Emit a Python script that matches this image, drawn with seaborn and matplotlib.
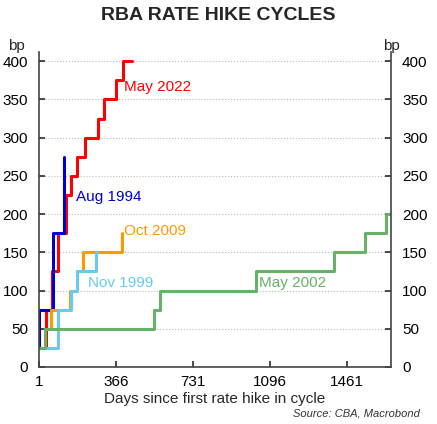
import matplotlib
matplotlib.use("Agg")
import matplotlib.pyplot as plt
import seaborn as sns
import pandas as pd

# step data: (days since first hike, cumulative bp)
may2022_days = [1, 36, 64, 92, 127, 155, 183, 218, 281, 309, 365, 400, 440]
may2022_bp = [25, 75, 125, 175, 225, 250, 275, 300, 325, 350, 375, 400, 400]
aug1994_days = [1, 2, 69, 121]
aug1994_bp = [25, 75, 175, 275]
oct2009_days = [1, 29, 57, 148, 183, 211, 393]
oct2009_bp = [25, 50, 75, 100, 125, 150, 175]
nov1999_days = [1, 92, 155, 183, 273, 275]
nov1999_bp = [25, 75, 100, 125, 150, 150]
may2002_days = [1, 29, 546, 574, 1029, 1400, 1547, 1645, 1660]
may2002_bp = [25, 50, 75, 100, 125, 150, 175, 200, 200]

series = [
    ("May 2022", may2022_days, may2022_bp, "#ff0000"),
    ("Aug 1994", aug1994_days, aug1994_bp, "#0000cc"),
    ("Oct 2009", oct2009_days, oct2009_bp, "#ff9900"),
    ("Nov 1999", nov1999_days, nov1999_bp, "#66ccee"),
    ("May 2002", may2002_days, may2002_bp, "#66b266"),
]
label_pos = {"May 2022": (405, 366), "Aug 1994": (175, 223), "Oct 2009": (405, 178),
             "Nov 1999": (235, 110), "May 2002": (1045, 110)}

sns.set_theme(style="white")
plt.rcParams["font.family"] = ["Liberation Sans", "DejaVu Sans"]

fig = plt.figure(figsize=(4.37, 4.24), dpi=100)
ax = fig.add_axes([39 / 437, 57 / 424, 352 / 437, 315 / 424])

for name, days, bp, color in series:
    df = pd.DataFrame({"day": days, "bp": bp})
    ax.step(df["day"], df["bp"], where="post", color=color, lw=2.2)
    lx, ly = label_pos[name]
    ax.text(lx, ly, name, color=color, fontsize=11, va="center", ha="left")

ax.set_xlim(1, 1670)
ax.set_ylim(0, 412)
ax.set_xticks([1, 366, 731, 1096, 1461])
ax.set_yticks(range(0, 401, 50))
ax.yaxis.grid(True, ls=":", color="#bbbbbb", lw=0.8)
ax.tick_params(axis="both", labelsize=11, direction="in", length=4, colors="#333333",
               labelcolor="black", left=True, bottom=True, right=True, labelright=True)
ax.tick_params(axis="y", pad=8)
ax.tick_params(axis="x", pad=6)
ax.spines["top"].set_visible(False)
for s in ["left", "right", "bottom"]:
    ax.spines[s].set_color("#444444")
    ax.spines[s].set_linewidth(1.2)
ax.set_xlabel("Days since first rate hike in cycle", fontsize=11, labelpad=2)

fig.text(0.5, 0.953, "RBA RATE HIKE CYCLES", ha="center", fontsize=14, fontweight="bold")
fig.text(8 / 437, 1 - 46 / 424, "bp", fontsize=11, va="center")
fig.text(383 / 437, 1 - 46 / 424, "bp", fontsize=11, va="center")
fig.text(420 / 437, 1 - 413 / 424, "Source: CBA, Macrobond", fontsize=8, style="italic",
         ha="right", va="center", color="#333333")

fig.savefig("out.png", dpi=100)
